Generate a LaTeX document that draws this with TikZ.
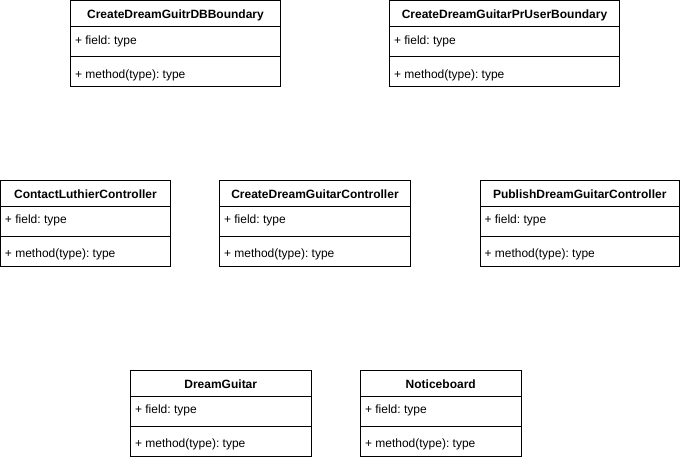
\documentclass[tikz,border=0pt]{standalone}
\usepackage{fontspec}
\setmainfont{Liberation Sans}
\usepackage{tikz}
\usetikzlibrary{positioning}
\frenchspacing
\tikzset{
  classtitle/.style = {font=\fontsize{12}{14}\selectfont\bfseries, inner sep=0pt},
  classmember/.style = {font=\fontsize{12}{14}\selectfont, inner sep=0pt, anchor=west}
}
% name, left, top, width, title
\newcommand{\tikzClassBox}[5]{
  \draw (#2,#3) rectangle ++(#4,86);
  \draw (#2,#3+26) -- ++(#4,0);
  \draw (#2,#3+56) -- ++(#4,0);
  \node[classtitle] (#1) at (#2+#4/2,#3+14.5) {#5};
  \node[classmember] (#1-field) at (#2+4,#3+40.5) {+ field: type};
  \node[classmember] (#1-method) at (#2+4,#3+74.5) {+ method(type): type};
}

\begin{document}
\begin{tikzpicture}[x=1pt, y=-1pt, line width=1pt]
                \useasboundingbox (0,0) rectangle (681,460);
                \tikzClassBox{dbboundary}{70.5}{0.5}{210}{CreateDreamGuitrDBBoundary};
                \tikzClassBox{userboundary}{389.5}{0.5}{230}{CreateDreamGuitarPrUserBoundary};
                \tikzClassBox{contactctrl}{0.5}{180}{170}{ContactLuthierController};
                \tikzClassBox{createctrl}{219.5}{180}{191}{CreateDreamGuitarController};
                \tikzClassBox{publishctrl}{480}{180}{199.5}{PublishDreamGuitarController};
                \tikzClassBox{dreamguitar}{130.5}{370}{180.5}{DreamGuitar};
                \tikzClassBox{noticeboard}{360.5}{370}{160.5}{Noticeboard};
              \end{tikzpicture}
\end{document}
